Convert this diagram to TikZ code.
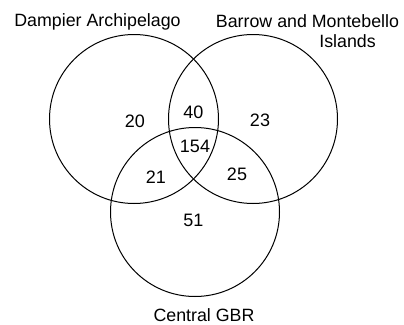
\documentclass[tikz,border=0pt]{standalone}
\usepackage{fontspec}
\setmainfont{Liberation Sans}

\begin{document}
\begin{tikzpicture}[x=1pt, y=-1pt, line width=1.0pt, line cap=round, line join=round]

  \tikzset{
    vlabel/.style={anchor=base,inner sep=0pt,font=\fontsize{17.8}{21.0}\selectfont},
    vcount/.style={anchor=center,inner sep=0pt,font=\fontsize{18.0}{21.0}\selectfont}
  }

  %% ════ circles ════
  \draw (134.0,119.0) circle (84.5);   % Dampier
  \draw (253.0,119.0) circle (84.5);   % Barrow / Montebello
  \draw (195.0,212.0) circle (84.5);   % Central GBR

  %% ════ set names ════
  \node[vlabel] (dampier) at (97.5,26.5) {Dampier Archipelago};
  \node[vlabel] (barrow)  at (307.5,27.5) {Barrow and Montebello};
  \node[vlabel] (islands) at (347.5,47.5) {Islands};
  \node[vlabel] (gbr)     at (204.0,321.0) {Central GBR};

  %% ════ counts ════
  \node[vcount] (onlyD)   at (135.0,121.5) {20};
  \node[vcount] (onlyB)   at (260.0,120.0) {23};
  \node[vcount] (onlyG)   at (193.5,220.0) {51};
  \node[vcount] (dANDb)   at (193.5,112.0) {40};
  \node[vcount] (dANDg)   at (156.0,177.0) {21};
  \node[vcount] (bANDg)   at (237.0,174.0) {25};
  \node[vcount] (allthree) at (195.0,146.5) {154};

  % pin the canvas
  \pgfresetboundingbox
  \path[use as bounding box] (0,0) rectangle (404,324);
\end{tikzpicture}
\end{document}
